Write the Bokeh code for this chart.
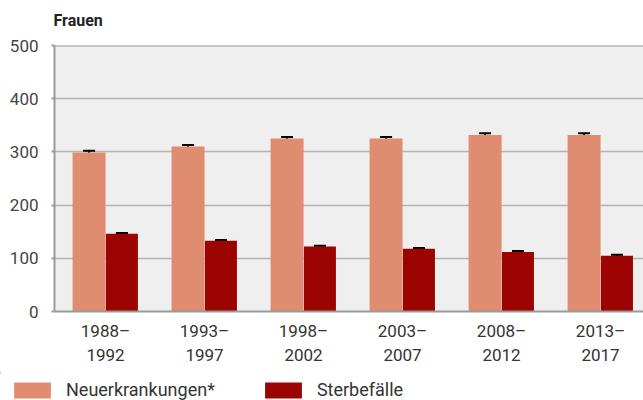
from bokeh.plotting import figure
from bokeh.layouts import column
from bokeh.models import (ColumnDataSource, Range1d, FixedTicker, Whisker, Legend,
                          LegendItem, Span, TeeHead, Label)
from bokeh.embed import file_html
from bokeh.resources import INLINE

# ---- data ----
periods = ["1988–\n1992", "1993–\n1997", "1998–\n2002", "2003–\n2007", "2008–\n2012", "2013–\n2017"]
neuerkrankungen = [299, 310, 325, 325, 332, 332]
neu_err = [3, 3, 3, 3, 3, 3]
sterbefaelle = [146, 133, 122, 118, 112, 105]
sterbe_err = [1.5, 1.5, 1.5, 1.5, 1.5, 1.5]
y_ticks = [0, 100, 200, 300, 400, 500]
series_names = ["Neuerkrankungen*", "Sterbefälle"]
title_text = "Frauen"

C_NEU = "#e08c70"
C_STERBE = "#9b0400"
FONT = "Roboto"

idx = list(range(len(periods)))
off = 0.166
src = ColumnDataSource(dict(
    x_neu=[i - off for i in idx],
    x_st=[i + off for i in idx],
    neu=neuerkrankungen,
    st=sterbefaelle,
    neu_lo=[v - e for v, e in zip(neuerkrankungen, neu_err)],
    neu_hi=[v + e for v, e in zip(neuerkrankungen, neu_err)],
    st_lo=[v - e for v, e in zip(sterbefaelle, sterbe_err)],
    st_hi=[v + e for v, e in zip(sterbefaelle, sterbe_err)],
))

# ---- title strip ----
tf = figure(width=643, height=30, output_backend="svg", toolbar_location=None, title=None,
            x_axis_location=None, y_axis_location=None, frame_align=False,
            min_border_left=0, min_border_right=0, min_border_top=0, min_border_bottom=0)
tf.outline_line_color = None
tf.grid.grid_line_color = None
tf.add_layout(Label(x=53, y=10, x_units="screen", y_units="screen", text=title_text,
                    text_font=FONT, text_font_size="16px", text_font_style="bold",
                    text_color="#222222", text_baseline="alphabetic"))

# ---- main chart ----
p = figure(width=643, height=342, output_backend="svg", toolbar_location=None, title=None,
           x_range=Range1d(-0.515, 5.434), y_range=Range1d(y_ticks[0], y_ticks[-1]),
           frame_align=False,
           min_border_left=54, min_border_right=0, min_border_top=15, min_border_bottom=61)
p.background_fill_color = "#efefef"
p.border_fill_color = "white"
p.outline_line_color = None

r_neu = p.vbar(x="x_neu", top="neu", width=0.333, bottom=0, source=src,
               fill_color=C_NEU, line_color=None)
r_st = p.vbar(x="x_st", top="st", width=0.323, bottom=0, source=src,
              fill_color=C_STERBE, line_color=None)

for base, lo, hi in (("x_neu", "neu_lo", "neu_hi"), ("x_st", "st_lo", "st_hi")):
    w = Whisker(source=src, base=base, lower=lo, upper=hi, line_color="black", line_width=2,
                upper_head=TeeHead(size=12, line_color="black", line_width=2),
                lower_head=TeeHead(size=12, line_color="black", line_width=2))
    p.add_layout(w)

# top boundary line at the axis maximum
p.add_layout(Span(location=y_ticks[-1], dimension="width", line_color="#9a9a9a", line_width=2))

xa = p.xaxis[0]
xa.ticker = FixedTicker(ticks=idx)
xa.major_label_overrides = {i: lab for i, lab in zip(idx, periods)}
xa.axis_line_color = "#9a9a9a"
xa.axis_line_width = 2
xa.major_tick_line_color = None
xa.minor_tick_line_color = None
xa.major_label_text_font = FONT
xa.major_label_text_font_size = "17px"
xa.major_label_text_color = "#333333"
xa.major_label_text_line_height = 1.2
xa.major_label_standoff = 3

ya = p.yaxis[0]
ya.ticker = FixedTicker(ticks=y_ticks)
ya.axis_line_color = "#9a9a9a"
ya.axis_line_width = 2
ya.major_tick_line_color = "#9a9a9a"
ya.major_tick_line_width = 2
ya.major_tick_in = 0
ya.major_tick_out = 3
ya.minor_tick_line_color = None
ya.major_label_text_font = FONT
ya.major_label_text_font_size = "17px"
ya.major_label_text_color = "#444444"
ya.major_label_standoff = 13

p.xgrid.grid_line_color = None
p.ygrid.grid_line_color = "#b3b3b3"
p.ygrid.grid_line_width = 1.5

# ---- legend strip (zero-height proxy bars, kept out of view, only style the swatches) ----
lg = figure(width=643, height=28, output_backend="svg", toolbar_location=None, title=None,
            x_axis_location=None, y_axis_location=None, frame_align=False,
            x_range=Range1d(100, 106), y_range=Range1d(-2, -1),
            min_border_left=0, min_border_right=0, min_border_top=0, min_border_bottom=0)
lg.outline_line_color = None
lg.grid.grid_line_color = None
lg.background_fill_color = "white"
lr_neu = lg.vbar(x="x_neu", top=0, bottom=0, width=0.333, source=src,
                 fill_color=C_NEU, line_color=None)
lr_st = lg.vbar(x="x_st", top=0, bottom=0, width=0.323, source=src,
                fill_color=C_STERBE, line_color=None)
legend = Legend(items=[LegendItem(label=series_names[0], renderers=[lr_neu]),
                       LegendItem(label=series_names[1], renderers=[lr_st])],
                orientation="horizontal", location=(9, 0),
                glyph_width=46, glyph_height=20, label_standoff=11, spacing=45,
                padding=0, margin=0, border_line_color=None, background_fill_alpha=0,
                label_text_font=FONT, label_text_font_size="18px", label_text_color="#333333",
                label_height=20)
lg.add_layout(legend, "center")

layout = column(tf, p, lg, spacing=0)
open("out.html", "w").write(file_html(layout, INLINE))
